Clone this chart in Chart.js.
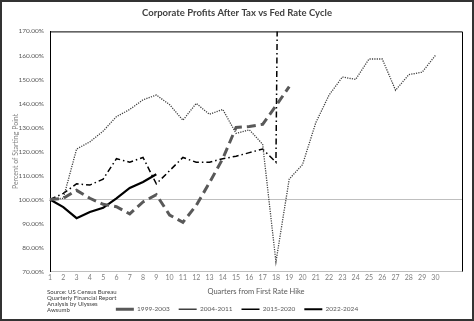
<!DOCTYPE html>
<html>
<head>
<meta charset="utf-8">
<script src="https://cdn.jsdelivr.net/npm/chart.js@4.4.1/dist/chart.umd.min.js"></script>
<style>
  html, body { margin: 0; padding: 0; background: #fff; }
  #wrap { width: 474px; height: 321px; }
</style>
</head>
<body>
<div id="wrap"><canvas id="c" width="474" height="321"></canvas></div>
<script>
// ─── Data ─────────────────────────────────────────────────────────────────────

const QUARTERS = ["1", "2", "3", "4", "5", "6", "7", "8", "9", "10",
                  "11", "12", "13", "14", "15", "16", "17", "18", "19", "20",
                  "21", "22", "23", "24", "25", "26", "27", "28", "29", "30", "", ""];

const CYCLE_1999 = [100, 100.5, 103.8, 100.5, 98, 97, 94, 99, 102, 93.5,
                    90.5, 97.5, 107, 117, 130, 130.4, 131.3, 139, 147];
const CYCLE_2004 = [100, 100.5, 121, 124, 128.5, 134.5, 137.5, 141.5, 143.5, 139.5,
                    133, 140, 135.5, 137.5, 127.5, 129, 123, 74, 108.5, 114.5,
                    132, 143.5, 151, 150, 158.5, 158.5, 145.5, 152, 153, 160];
const CYCLE_2015 = [100, 102.5, 106.5, 106, 108.5, 117, 115.5, 117.5, 106.5, 112,
                    117.5, 115.5, 115.5, 117, 118, 119.5, 121, 115.5, 700];
const CYCLE_2022 = [100, 96.8, 92.2, 94.8, 96.5, 100.5, 104.8, 107.3, 110.5];

const SERIES_NAMES = ["1999-2003", "2004-2011", "2015-2020", "2022-2024"];
const SOURCE_LINES = ["Source: US Census Bureau", "Quarterly Financial Report",
                      "Analysis by Ulysses", "Awsumb"];

// ─── Style ────────────────────────────────────────────────────────────────────

const FONT = "Lato, 'Open Sans', sans-serif";
const DARK = "#404040";
const MID  = "#595959";
const GREY = "#7f7f7f";
const LEGEND_TOP = 297;

const frame = {
  id: "frame",
  afterLayout(chart) {
    // drop the legend down level with the last source line
    const lg = chart.legend;
    const h = lg.bottom - lg.top;
    lg.top = LEGEND_TOP;
    lg.bottom = LEGEND_TOP + h;
  },
  afterDraw(chart) {
    const { ctx, chartArea: a } = chart;
    ctx.save();
    // top + right of plot box
    ctx.strokeStyle = "#000";
    ctx.lineWidth = 1;
    ctx.beginPath();
    ctx.moveTo(a.left, a.top + 0.5);
    ctx.lineTo(a.right + 0.5, a.top + 0.5);
    ctx.lineTo(a.right + 0.5, a.bottom);
    ctx.stroke();
    // outer border
    ctx.strokeStyle = "#333";
    ctx.lineWidth = 2;
    ctx.strokeRect(1, 1, chart.width - 2, chart.height - 2);
    // source note
    ctx.fillStyle = DARK;
    ctx.font = `6px ${FONT}`;
    ctx.textBaseline = "middle";
    SOURCE_LINES.forEach((t, i) => ctx.fillText(t, 47, 292 + i * 6.1));
    ctx.restore();
  },
};

function line(label, data, color, width, dash) {
  return {
    label, data,
    borderColor: color,
    backgroundColor: color,
    borderWidth: width,
    borderDash: dash,
    pointRadius: 0,
    tension: 0,
    fill: false,
  };
}

// ─── Chart ────────────────────────────────────────────────────────────────────

new Chart(document.getElementById("c"), {
  type: "line",
  data: {
    labels: QUARTERS,
    datasets: [
      line(SERIES_NAMES[0], CYCLE_1999, MID, 3, [9, 5]),
      line(SERIES_NAMES[1], CYCLE_2004, DARK, 1.3, [1.2, 1.2]),
      line(SERIES_NAMES[2], CYCLE_2015, "#000", 1.5, [6, 3, 1.5, 3]),
      line(SERIES_NAMES[3], CYCLE_2022, "#000", 2.2, []),
    ],
  },
  plugins: [frame],
  options: {
    responsive: false,
    animation: false,
    devicePixelRatio: 1,
    layout: { padding: { top: 4, left: 12, right: 12, bottom: -6 } },
    plugins: {
      title: {
        display: true,
        text: "Corporate Profits After Tax vs Fed Rate Cycle",
        color: DARK,
        font: { family: FONT, size: 9.5, weight: "bold" },
        padding: { top: 3, bottom: 13 },
      },
      legend: {
        position: "bottom",
        labels: {
          color: MID,
          font: { family: FONT, size: 6.5 },
          usePointStyle: true,
          pointStyle: "line",
          pointStyleWidth: 18,
          boxHeight: 7,
          padding: 9,
        },
      },
      tooltip: { enabled: false },
    },
    scales: {
      x: {
        grid: { display: false, drawTicks: false },
        border: { color: "#bfbfbf", width: 1 },
        ticks: {
          color: GREY,
          font: { family: FONT, size: 7 },
          autoSkip: false,
          maxRotation: 0,
          padding: 2,
          callback: (v, i) => QUARTERS[i],
        },
        title: {
          display: true,
          text: "Quarters from First Rate Hike",
          color: MID,
          font: { family: FONT, size: 7.5 },
          padding: { top: 4, bottom: 5 },
        },
        afterFit: (s) => { s.height = 30; },
      },
      y: {
        min: 70,
        max: 170,
        grid: {
          drawTicks: false,
          color: (c) => (c.tick && c.tick.value === 100 ? "#bfbfbf" : "rgba(0,0,0,0)"),
        },
        border: { color: "#000", width: 1 },
        ticks: {
          stepSize: 10,
          color: MID,
          font: { family: FONT, size: 6.5 },
          padding: 6,
          callback: (v) => v.toFixed(2) + "%",
        },
        title: {
          display: true,
          text: "Percent of Starting Point",
          color: GREY,
          font: { family: FONT, size: 7 },
          padding: { top: 0, bottom: 0 },
        },
        afterFit: (s) => { s.width = 38; },
      },
    },
  },
});
</script>
</body>
</html>
